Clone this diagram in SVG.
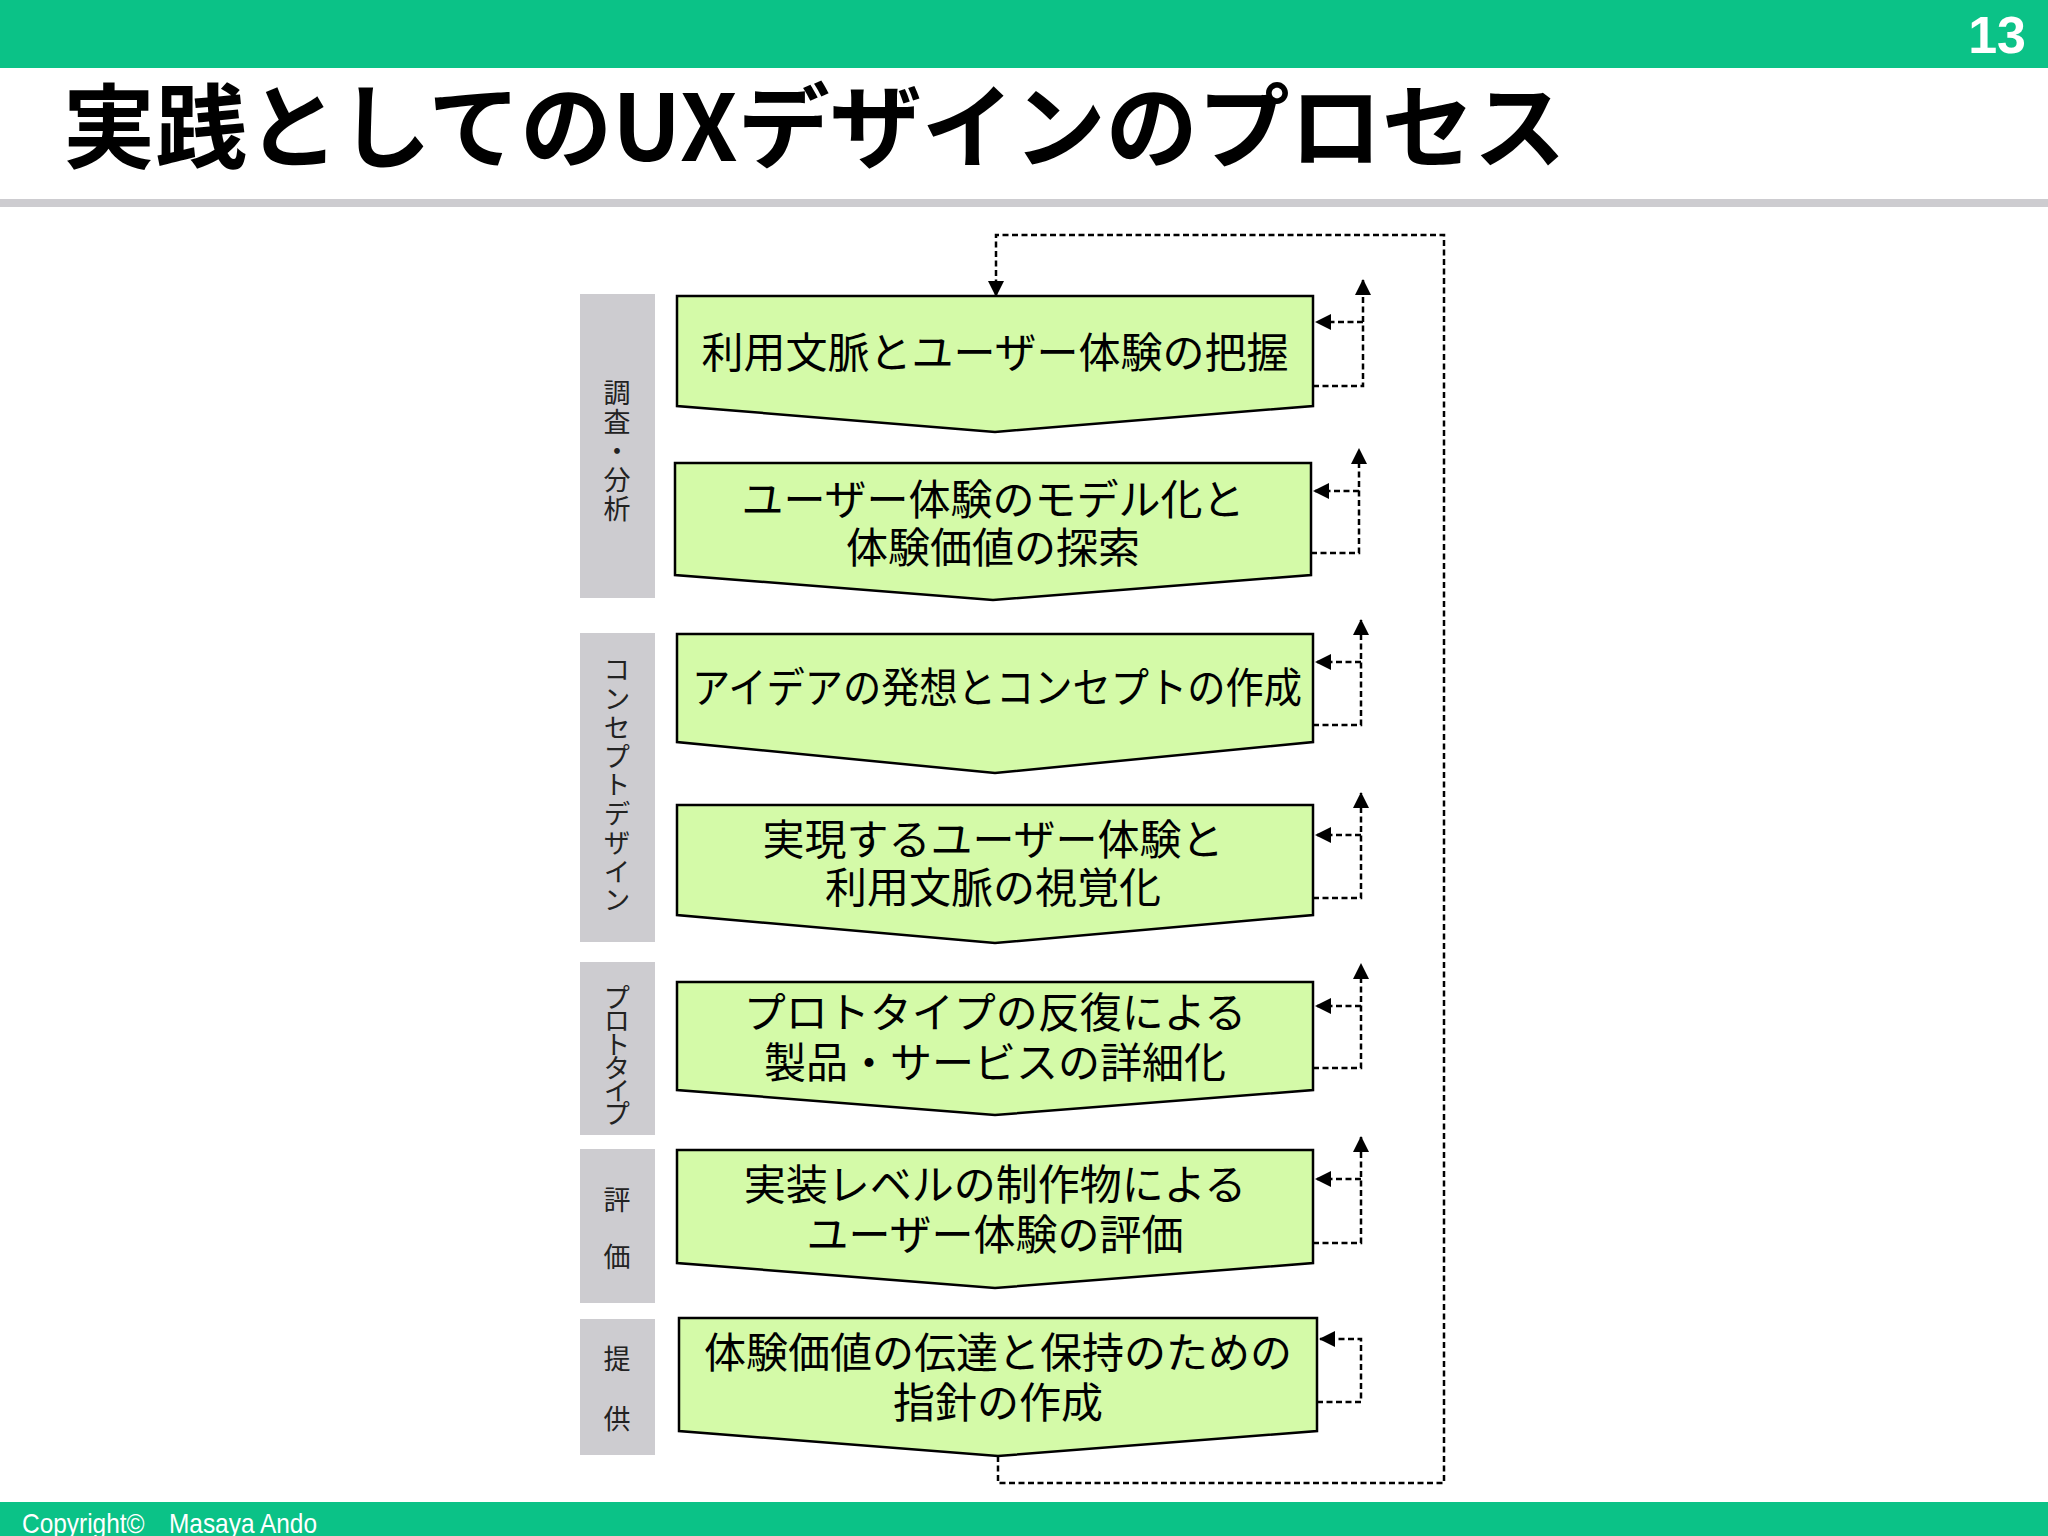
<svg xmlns="http://www.w3.org/2000/svg" width="2048" height="1536" viewBox="0 0 2048 1536">
<defs>
<style>
.bar{fill:#0BC287}
.node{fill:#D4FAA8;stroke:#000;stroke-width:2.5;stroke-linejoin:miter}
.ntext{font-family:"Noto Sans CJK JP","Noto Sans",sans-serif;font-size:42px;fill:#000;text-anchor:middle}
.side{fill:#CDCCD0}
.stext{font-family:"Noto Sans CJK JP","Noto Sans",sans-serif;font-size:27px;fill:#222;text-anchor:middle}
.vtext{font-family:"Noto Sans CJK JP","Noto Sans",sans-serif;font-size:27px;fill:#222;text-anchor:middle;writing-mode:vertical-rl}
.dash{fill:none;stroke:#000;stroke-width:2.5;stroke-dasharray:6,3.5}
</style>
<marker id="ah" markerUnits="userSpaceOnUse" markerWidth="16" markerHeight="16" viewBox="0 0 16 16" refX="15" refY="8" orient="auto">
<path d="M0,0 L16,8 L0,16 z" fill="#000"/>
</marker>
</defs>
<rect width="2048" height="1536" fill="#fff"/>
<rect class="bar" x="0" y="0" width="2048" height="68"/>
<text x="2026" y="53" font-family="Liberation Sans,Arial,sans-serif" font-size="52" font-weight="bold" fill="#fff" text-anchor="end">13</text>
<text x="63" y="161" font-family="Noto Sans CJK JP,sans-serif" font-size="92" font-weight="bold" fill="#000">実践としてのUXデザインのプロセス</text>
<rect x="0" y="199" width="2048" height="8" fill="#CDCCD0"/>
<rect class="bar" x="0" y="1502" width="2048" height="34"/>
<text x="22" y="1533" font-family="Liberation Sans,Arial,sans-serif" font-size="28" fill="#fff" textLength="295" lengthAdjust="spacingAndGlyphs">Copyright©　Masaya Ando</text>

<g id="phase-research">
<rect class="side" x="580" y="294" width="75" height="304"/>
<text class="vtext" x="617" y="452" letter-spacing="2">調査・分析</text>
</g>
<g id="phase-concept">
<rect class="side" x="580" y="633" width="75" height="309"/>
<text class="vtext" x="617" y="786" letter-spacing="1.75">コンセプトデザイン</text>
</g>
<g id="phase-prototype">
<rect class="side" x="580" y="962" width="75" height="173"/>
<text class="vtext" x="617" y="1054" letter-spacing="-3.8">プロトタイプ</text>
</g>
<g id="phase-evaluation">
<rect class="side" x="580" y="1149" width="75" height="154"/>
<text class="stext"><tspan x="617" y="1210">評</tspan><tspan x="617" y="1267">価</tspan></text>
</g>
<g id="phase-delivery">
<rect class="side" x="580" y="1319" width="75" height="136"/>
<text class="stext"><tspan x="617" y="1369">提</tspan><tspan x="617" y="1429">供</tspan></text>
</g>

<g id="node1">
<polygon class="node" points="677,296 1313,296 1313,406 995,432 677,406"/>
<text class="ntext" x="995" y="368">利用文脈とユーザー体験の把握</text>
</g>
<g id="node2">
<polygon class="node" points="675,463 1311,463 1311,575 993,600 675,575"/>
<text class="ntext" x="993" y="515">ユーザー体験のモデル化と</text>
<text class="ntext" x="993" y="563">体験価値の探索</text>
</g>
<g id="node3">
<polygon class="node" points="677,634 1313,634 1313,742 995,773 677,742"/>
<text class="ntext" x="997" y="703" textLength="610" lengthAdjust="spacingAndGlyphs">アイデアの発想とコンセプトの作成</text>
</g>
<g id="node4">
<polygon class="node" points="677,805 1313,805 1313,915 995,943 677,915"/>
<text class="ntext" x="993" y="855">実現するユーザー体験と</text>
<text class="ntext" x="993" y="903">利用文脈の視覚化</text>
</g>
<g id="node5">
<polygon class="node" points="677,982 1313,982 1313,1090 995,1115 677,1090"/>
<text class="ntext" x="995" y="1028">プロトタイプの反復による</text>
<text class="ntext" x="995" y="1078">製品・サービスの詳細化</text>
</g>
<g id="node6">
<polygon class="node" points="677,1150 1313,1150 1313,1263 995,1288 677,1263"/>
<text class="ntext" x="995" y="1200">実装レベルの制作物による</text>
<text class="ntext" x="995" y="1250">ユーザー体験の評価</text>
</g>
<g id="node7">
<polygon class="node" points="679,1318 1317,1318 1317,1431 998,1456 679,1431"/>
<text class="ntext" x="998" y="1368">体験価値の伝達と保持のための</text>
<text class="ntext" x="998" y="1418">指針の作成</text>
</g>

<g id="connectors">
<path class="dash" d="M1313,386 H1363 V280" marker-end="url(#ah)"/>
<path class="dash" d="M1363,322 H1316" marker-end="url(#ah)"/>
<path class="dash" d="M1311,553 H1359 V449" marker-end="url(#ah)"/>
<path class="dash" d="M1359,491 H1314" marker-end="url(#ah)"/>
<path class="dash" d="M1313,725 H1361 V620" marker-end="url(#ah)"/>
<path class="dash" d="M1361,662 H1316" marker-end="url(#ah)"/>
<path class="dash" d="M1313,898 H1361 V793" marker-end="url(#ah)"/>
<path class="dash" d="M1361,835 H1316" marker-end="url(#ah)"/>
<path class="dash" d="M1313,1068 H1361 V964" marker-end="url(#ah)"/>
<path class="dash" d="M1361,1006 H1316" marker-end="url(#ah)"/>
<path class="dash" d="M1313,1243 H1361 V1137" marker-end="url(#ah)"/>
<path class="dash" d="M1361,1179 H1316" marker-end="url(#ah)"/>
<path class="dash" d="M1317,1402 H1361 V1339 H1320" marker-end="url(#ah)"/>
<path class="dash" d="M998,1456 V1483 H1444 V235 H996 V296" marker-end="url(#ah)"/>
</g>
</svg>
